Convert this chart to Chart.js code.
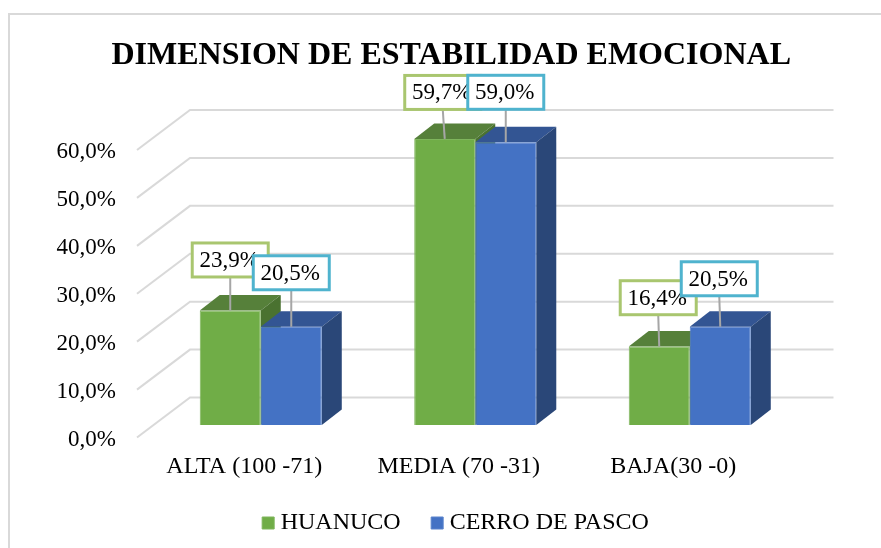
<!DOCTYPE html>
<html>
<head>
<meta charset="utf-8">
<style>html,body{margin:0;padding:0;background:#fff}#w{width:881px;height:548px;position:relative}</style>
<script src="https://cdn.jsdelivr.net/npm/chart.js@4/dist/chart.umd.min.js"></script>
</head>
<body>
<div id="w"><canvas id="c"></canvas></div>
<script>
const chartTitle = 'DIMENSION DE ESTABILIDAD EMOCIONAL';
const categories = ['ALTA (100 -71)', 'MEDIA (70 -31)', 'BAJA(30 -0)'];
const huanuco = [23.9, 59.7, 16.4];
const cerroDePasco = [20.5, 59.0, 20.5];
const serif = '"Liberation Serif"';
const fmt = v => v.toFixed(1).replace('.', ',') + '%';

// 3D projection: wall depth and the bar plane within it
const wall = {dx: 53, dy: 40};
const barShift = {dx: 16.5, dy: 12.5};
const barDepth = {dx: 20, dy: 15.5};
const faces = [
  {front: '#70AD47', edge: '#7FB55C', top: '#56803A', side: '#4A7230', box: '#A9C66F'},
  {front: '#4472C4', edge: '#5A83CC', top: '#335593', side: '#2A4778', box: '#4FB3CE'}
];
// label box placement relative to each bar top [dx, gap]
const labelPlace = [
  [[0, 50.5], [-2, 46.5], [-1, 48.7]],
  [[0, 54], [0, 50], [-1, 48]]
];
const boxW = 76, boxH = 34;

const threeD = {
  id: 'threeD',
  afterLayout(chart) {
    const t = chart.titleBlock, l = chart.legend;
    t.left += 61; t.right += 61;
    l.left += 68; l.right += 68;
    l.top -= 3.5; l.bottom -= 3.5;
  },
  beforeDraw(chart) {
    const {ctx, scales: {y}, chartArea: a} = chart;
    y.getLabelItems(a).forEach(it => { it.textOffset = 2; });
    ctx.save();
    ctx.fillStyle = '#fff';
    ctx.fillRect(0, 0, chart.width, chart.height);
    ctx.strokeStyle = '#D9D9D9';
    ctx.lineWidth = 2;
    // chart frame: only its left and top edges are inside the picture
    ctx.beginPath();
    ctx.moveTo(9, chart.height);
    ctx.lineTo(9, 14);
    ctx.lineTo(chart.width, 14);
    ctx.stroke();
    y.ticks.forEach(t => {
      const py = y.getPixelForValue(t.value);
      ctx.beginPath();
      ctx.moveTo(a.left, py);
      ctx.lineTo(a.left + wall.dx, py - wall.dy);
      ctx.lineTo(a.right + wall.dx, py - wall.dy);
      ctx.stroke();
    });
    ctx.restore();
  },
  // Draw left series first so the right series overlaps its side face
  beforeDatasetsDraw(chart) {
    const {ctx} = chart;
    const metas = chart.getSortedVisibleDatasetMetas();
    ctx.save();
    ctx.translate(barShift.dx, -barShift.dy);
    metas.forEach(meta => {
      const f = faces[meta.index];
      meta.data.forEach(b => {
        const L = b.x - b.width / 2, R = b.x + b.width / 2, T = b.y, B = b.base;
        const dx = barDepth.dx, dy = barDepth.dy;
        ctx.fillStyle = f.top;
        ctx.beginPath();
        ctx.moveTo(L, T); ctx.lineTo(L + dx, T - dy); ctx.lineTo(R + dx, T - dy); ctx.lineTo(R, T);
        ctx.closePath(); ctx.fill();
        ctx.fillStyle = f.side;
        ctx.beginPath();
        ctx.moveTo(R, T); ctx.lineTo(R + dx, T - dy); ctx.lineTo(R + dx, B - dy); ctx.lineTo(R, B);
        ctx.closePath(); ctx.fill();
      });
      meta.controller.draw();
    });
    ctx.font = '23px ' + serif;
    ctx.textAlign = 'center';
    ctx.textBaseline = 'middle';
    metas.forEach(meta => {
      const di = meta.index;
      meta.data.forEach((b, i) => {
        const [ox, gap] = labelPlace[di][i];
        const cx = b.x + ox, cy = b.y - gap;
        ctx.strokeStyle = '#A6A6A6';
        ctx.lineWidth = 2;
        ctx.beginPath();
        ctx.moveTo(cx, cy + boxH / 2);
        ctx.lineTo(b.x, b.y);
        ctx.stroke();
        ctx.fillStyle = '#fff';
        ctx.fillRect(cx - boxW / 2, cy - boxH / 2, boxW, boxH);
        ctx.strokeStyle = faces[di].box;
        ctx.lineWidth = 3;
        ctx.strokeRect(cx - boxW / 2, cy - boxH / 2, boxW, boxH);
        ctx.fillStyle = '#000';
        ctx.fillText(fmt(chart.data.datasets[di].data[i]), cx - 1, cy + 1);
      });
    });
    ctx.restore();
    return false;
  }
};

new Chart(document.getElementById('c'), {
  type: 'bar',
  data: {
    labels: categories,
    datasets: [
      {label: 'HUANUCO', data: huanuco, backgroundColor: faces[0].front, borderColor: faces[0].edge, borderWidth: 1},
      {label: 'CERRO DE PASCO', data: cerroDePasco, backgroundColor: faces[1].front, borderColor: faces[1].edge, borderWidth: 1}
    ]
  },
  options: {
    responsive: true,
    maintainAspectRatio: false,
    animation: false,
    categoryPercentage: 0.569,
    barPercentage: 1,
    layout: {padding: {left: 0, right: 100.5, top: 0, bottom: -0.5}},
    scales: {
      x: {
        grid: {display: false},
        border: {display: false},
        ticks: {color: '#000', font: {family: serif, size: 24}, padding: 6.5, maxRotation: 0, autoSkip: false},
        afterFit(s) { s.height = 41; }
      },
      y: {
        min: 0, max: 60,
        grid: {display: false, drawTicks: false},
        border: {display: false},
        ticks: {stepSize: 10, color: '#000', font: {family: serif, size: 23}, padding: 21, callback: v => fmt(v)},
        afterFit(s) { s.width = 137; }
      }
    },
    plugins: {
      tooltip: {enabled: false},
      title: {
        display: true,
        text: chartTitle,
        color: '#000',
        font: {family: serif, size: 32, weight: 'bold'},
        padding: {top: 37, bottom: 74.6}
      },
      legend: {
        position: 'bottom',
        labels: {
          color: '#000',
          font: {family: serif, size: 24},
          usePointStyle: true,
          pointStyle: 'rect',
          boxWidth: 1,
          boxHeight: 12,
          padding: 36
        }
      }
    }
  },
  plugins: [threeD]
});
</script>
</body>
</html>
